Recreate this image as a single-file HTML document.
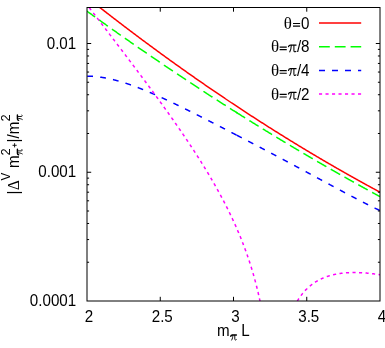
<!DOCTYPE html>
<html><head><meta charset="utf-8"><title>plot</title><style>html,body{margin:0;padding:0;background:#fff}body{width:385px;height:348px;overflow:hidden}</style></head><body>
<svg width="385" height="348" viewBox="0 0 385 348" style="display:block;will-change:transform">
<defs><clipPath id="c"><rect x="87.00" y="7.50" width="293.00" height="293.50"/></clipPath></defs>
<g clip-path="url(#c)" fill="none" stroke-width="1.5" stroke-linecap="butt" stroke-linejoin="round">
<path d="M82.00 -6.60 L82.75 -6.01 L83.49 -5.41 L84.24 -4.82 L84.99 -4.22 L85.73 -3.63 L86.48 -3.04 L87.23 -2.44 L87.97 -1.85 L88.72 -1.26 L89.47 -0.67 L90.22 -0.08 L90.96 0.51 L91.71 1.10 L92.46 1.69 L93.20 2.28 L93.95 2.87 L94.70 3.45 L95.44 4.04 L96.19 4.63 L96.94 5.21 L97.68 5.80 L98.43 6.38 L99.18 6.97 L99.92 7.55 L100.67 8.14 L101.42 8.72 L102.17 9.30 L102.91 9.88 L103.66 10.46 L104.41 11.05 L105.15 11.63 L105.90 12.21 L106.65 12.79 L107.39 13.37 L108.14 13.94 L108.89 14.52 L109.63 15.10 L110.38 15.68 L111.13 16.25 L111.87 16.83 L112.62 17.41 L113.37 17.98 L114.12 18.56 L114.86 19.13 L115.61 19.70 L116.36 20.28 L117.10 20.85 L117.85 21.42 L118.60 21.99 L119.34 22.57 L120.09 23.14 L120.84 23.71 L121.58 24.28 L122.33 24.85 L123.08 25.42 L123.82 25.98 L124.57 26.55 L125.32 27.12 L126.07 27.69 L126.81 28.25 L127.56 28.82 L128.31 29.38 L129.05 29.95 L129.80 30.51 L130.55 31.08 L131.29 31.64 L132.04 32.20 L132.79 32.77 L133.53 33.33 L134.28 33.89 L135.03 34.45 L135.77 35.01 L136.52 35.57 L137.27 36.13 L138.02 36.69 L138.76 37.25 L139.51 37.81 L140.26 38.37 L141.00 38.92 L141.75 39.48 L142.50 40.04 L143.24 40.59 L143.99 41.15 L144.74 41.70 L145.48 42.26 L146.23 42.81 L146.98 43.36 L147.72 43.92 L148.47 44.47 L149.22 45.02 L149.96 45.57 L150.71 46.12 L151.46 46.67 L152.21 47.22 L152.95 47.77 L153.70 48.32 L154.45 48.87 L155.19 49.42 L155.94 49.97 L156.69 50.51 L157.43 51.06 L158.18 51.60 L158.93 52.15 L159.67 52.70 L160.42 53.24 L161.17 53.78 L161.91 54.33 L162.66 54.87 L163.41 55.41 L164.16 55.95 L164.90 56.50 L165.65 57.04 L166.40 57.58 L167.14 58.12 L167.89 58.66 L168.64 59.20 L169.38 59.74 L170.13 60.27 L170.88 60.81 L171.62 61.35 L172.37 61.89 L173.12 62.42 L173.86 62.96 L174.61 63.49 L175.36 64.03 L176.11 64.56 L176.85 65.10 L177.60 65.63 L178.35 66.16 L179.09 66.69 L179.84 67.23 L180.59 67.76 L181.33 68.29 L182.08 68.82 L182.83 69.35 L183.57 69.88 L184.32 70.41 L185.07 70.94 L185.81 71.46 L186.56 71.99 L187.31 72.52 L188.06 73.04 L188.80 73.57 L189.55 74.10 L190.30 74.62 L191.04 75.15 L191.79 75.67 L192.54 76.19 L193.28 76.72 L194.03 77.24 L194.78 77.76 L195.52 78.28 L196.27 78.80 L197.02 79.32 L197.76 79.84 L198.51 80.36 L199.26 80.88 L200.01 81.40 L200.75 81.92 L201.50 82.44 L202.25 82.95 L202.99 83.47 L203.74 83.99 L204.49 84.50 L205.23 85.02 L205.98 85.53 L206.73 86.05 L207.47 86.56 L208.22 87.07 L208.97 87.59 L209.71 88.10 L210.46 88.61 L211.21 89.12 L211.95 89.63 L212.70 90.14 L213.45 90.65 L214.20 91.16 L214.94 91.67 L215.69 92.18 L216.44 92.69 L217.18 93.20 L217.93 93.70 L218.68 94.21 L219.42 94.72 L220.17 95.22 L220.92 95.73 L221.66 96.23 L222.41 96.74 L223.16 97.24 L223.90 97.74 L224.65 98.24 L225.40 98.75 L226.15 99.25 L226.89 99.75 L227.64 100.25 L228.39 100.75 L229.13 101.25 L229.88 101.75 L230.63 102.25 L231.37 102.75 L232.12 103.24 L232.87 103.74 L233.61 104.24 L234.36 104.73 L235.11 105.23 L235.85 105.72 L236.60 106.22 L237.35 106.71 L238.10 107.21 L238.84 107.70 L239.59 108.19 L240.34 108.69 L241.08 109.18 L241.83 109.67 L242.58 110.16 L243.32 110.65 L244.07 111.14 L244.82 111.63 L245.56 112.12 L246.31 112.61 L247.06 113.09 L247.80 113.58 L248.55 114.07 L249.30 114.56 L250.05 115.04 L250.79 115.53 L251.54 116.01 L252.29 116.50 L253.03 116.98 L253.78 117.46 L254.53 117.95 L255.27 118.43 L256.02 118.91 L256.77 119.39 L257.51 119.87 L258.26 120.36 L259.01 120.84 L259.75 121.31 L260.50 121.79 L261.25 122.27 L261.99 122.75 L262.74 123.23 L263.49 123.71 L264.24 124.18 L264.98 124.66 L265.73 125.13 L266.48 125.61 L267.22 126.08 L267.97 126.56 L268.72 127.03 L269.46 127.51 L270.21 127.98 L270.96 128.45 L271.70 128.92 L272.45 129.39 L273.20 129.87 L273.94 130.34 L274.69 130.81 L275.44 131.27 L276.19 131.74 L276.93 132.21 L277.68 132.68 L278.43 133.15 L279.17 133.61 L279.92 134.08 L280.67 134.55 L281.41 135.01 L282.16 135.48 L282.91 135.94 L283.65 136.41 L284.40 136.87 L285.15 137.33 L285.89 137.80 L286.64 138.26 L287.39 138.72 L288.14 139.18 L288.88 139.64 L289.63 140.10 L290.38 140.56 L291.12 141.02 L291.87 141.48 L292.62 141.94 L293.36 142.39 L294.11 142.85 L294.86 143.31 L295.60 143.76 L296.35 144.22 L297.10 144.68 L297.84 145.13 L298.59 145.58 L299.34 146.04 L300.09 146.49 L300.83 146.94 L301.58 147.40 L302.33 147.85 L303.07 148.30 L303.82 148.75 L304.57 149.20 L305.31 149.65 L306.06 150.10 L306.81 150.55 L307.55 151.00 L308.30 151.45 L309.05 151.89 L309.79 152.34 L310.54 152.79 L311.29 153.23 L312.04 153.68 L312.78 154.12 L313.53 154.57 L314.28 155.01 L315.02 155.45 L315.77 155.90 L316.52 156.34 L317.26 156.78 L318.01 157.22 L318.76 157.67 L319.50 158.11 L320.25 158.55 L321.00 158.99 L321.74 159.42 L322.49 159.86 L323.24 160.30 L323.98 160.74 L324.73 161.18 L325.48 161.61 L326.23 162.05 L326.97 162.48 L327.72 162.92 L328.47 163.35 L329.21 163.79 L329.96 164.22 L330.71 164.66 L331.45 165.09 L332.20 165.52 L332.95 165.95 L333.69 166.38 L334.44 166.82 L335.19 167.25 L335.93 167.68 L336.68 168.11 L337.43 168.53 L338.18 168.96 L338.92 169.39 L339.67 169.82 L340.42 170.24 L341.16 170.67 L341.91 171.10 L342.66 171.52 L343.40 171.95 L344.15 172.37 L344.90 172.80 L345.64 173.22 L346.39 173.64 L347.14 174.07 L347.88 174.49 L348.63 174.91 L349.38 175.33 L350.13 175.75 L350.87 176.17 L351.62 176.59 L352.37 177.01 L353.11 177.43 L353.86 177.85 L354.61 178.26 L355.35 178.68 L356.10 179.10 L356.85 179.51 L357.59 179.93 L358.34 180.35 L359.09 180.76 L359.83 181.17 L360.58 181.59 L361.33 182.00 L362.08 182.41 L362.82 182.83 L363.57 183.24 L364.32 183.65 L365.06 184.06 L365.81 184.47 L366.56 184.88 L367.30 185.29 L368.05 185.70 L368.80 186.11 L369.54 186.52 L370.29 186.92 L371.04 187.33 L371.78 187.74 L372.53 188.14 L373.28 188.55 L374.03 188.95 L374.77 189.36 L375.52 189.76 L376.27 190.16 L377.01 190.57 L377.76 190.97 L378.51 191.37 L379.25 191.77 L380.00 192.17" stroke="#ff0000"/>
<path d="M87.00 11.20 L87.38 11.47 L87.75 11.74 L88.13 12.01 L88.51 12.29 L88.89 12.56 L89.26 12.83 L89.64 13.10 L90.02 13.38 L90.39 13.65 L90.77 13.92 L91.15 14.19 L91.53 14.47 L91.90 14.74 L92.28 15.01 L92.66 15.28 L93.04 15.55 L93.41 15.83 L93.79 16.10 L94.17 16.37 L94.54 16.64 L94.92 16.91 L95.30 17.18 L95.68 17.45 L96.05 17.72 L96.43 18.00 L96.81 18.27 L97.18 18.54 L97.56 18.81 L97.94 19.08 L98.32 19.35 L98.69 19.62 L99.07 19.89 L99.45 20.16 L99.82 20.43 L100.20 20.70 L100.58 20.97 L100.96 21.24 L101.33 21.51 L101.71 21.78 L102.09 22.05 L102.46 22.32 L102.84 22.59 L103.22 22.86 L103.60 23.13 L103.97 23.40 L104.35 23.67 L104.73 23.93 L105.11 24.20 L105.48 24.47 L105.86 24.74 L106.24 25.01 L106.61 25.28 L106.99 25.55 L107.37 25.82 L107.75 26.08 L108.12 26.35 L108.50 26.62 L108.88 26.89 L109.25 27.16 L109.63 27.42 L110.01 27.69 L110.39 27.96 L110.76 28.23 L111.14 28.49 L111.52 28.76 L111.89 29.03 L112.27 29.30 L112.65 29.56 L113.03 29.83 L113.40 30.10 L113.78 30.36 L114.16 30.63 L114.54 30.90 L114.91 31.16 L115.29 31.43 L115.67 31.70 L116.04 31.96 L116.42 32.23 L116.80 32.50 L117.18 32.76 L117.55 33.03 L117.93 33.29 L118.31 33.56 L118.68 33.83 L119.06 34.09 L119.44 34.36 L119.82 34.62 L120.19 34.89 L120.57 35.15 L120.95 35.42 L121.32 35.68 L121.70 35.95 L122.08 36.21 L122.46 36.48 L122.83 36.74 L123.21 37.01 L123.59 37.27 L123.96 37.54 L124.34 37.80 L124.72 38.07 L125.10 38.33 L125.47 38.59 L125.85 38.86 L126.23 39.12 L126.61 39.39 L126.98 39.65 L127.36 39.91 L127.74 40.18 L128.11 40.44 L128.49 40.70 L128.87 40.97 L129.25 41.23 L129.62 41.49 L130.00 41.76 L130.38 42.02 L130.75 42.28 L131.13 42.55 L131.51 42.81 L131.89 43.07 L132.26 43.33 L132.64 43.60 L133.02 43.86 L133.39 44.12 L133.77 44.38 L134.15 44.64 L134.53 44.91 L134.90 45.17 L135.28 45.43 L135.66 45.69 L136.04 45.95 L136.41 46.22 L136.79 46.48 L137.17 46.74 L137.54 47.00 L137.92 47.26 L138.30 47.52 L138.68 47.78 L139.05 48.04 L139.43 48.31 L139.81 48.57 L140.18 48.83 L140.56 49.09 L140.94 49.35 L141.32 49.61 L141.69 49.87 L142.07 50.13 L142.45 50.39 L142.82 50.65 L143.20 50.91 L143.58 51.17 L143.96 51.43 L144.33 51.69 L144.71 51.95 L145.09 52.21 L145.46 52.47 L145.84 52.73 L146.22 52.99 L146.60 53.24 L146.97 53.50 L147.35 53.76 L147.73 54.02 L148.11 54.28 L148.48 54.54 L148.86 54.80 L149.24 55.06 L149.61 55.32 L149.99 55.57 L150.37 55.83 L150.75 56.09 L151.12 56.35 L151.50 56.61 L151.88 56.86 L152.25 57.12 L152.63 57.38 L153.01 57.64 L153.39 57.90 L153.76 58.15 L154.14 58.41 L154.52 58.67 L154.89 58.92 L155.27 59.18 L155.65 59.44 L156.03 59.70 L156.40 59.95 L156.78 60.21 L157.16 60.47 L157.54 60.72 L157.91 60.98 L158.29 61.24 L158.67 61.49 L159.04 61.75 L159.42 62.00 L159.80 62.26 L160.18 62.52 L160.55 62.77 L160.93 63.03 L161.31 63.28 L161.68 63.54 L162.06 63.80 L162.44 64.05 L162.82 64.31 L163.19 64.56 L163.57 64.82 L163.95 65.07 L164.32 65.33 L164.70 65.58 L165.08 65.84 L165.46 66.09 L165.83 66.35 L166.21 66.60 L166.59 66.86 L166.96 67.11 L167.34 67.36 L167.72 67.62 L168.10 67.87 L168.47 68.13 L168.85 68.38 L169.23 68.63 L169.61 68.89 L169.98 69.14 L170.36 69.40 L170.74 69.65 L171.11 69.90 L171.49 70.16 L171.87 70.41 L172.25 70.66 L172.62 70.91 L173.00 71.17 L173.38 71.42 L173.75 71.67 L174.13 71.93 L174.51 72.18 L174.89 72.43 L175.26 72.68 L175.64 72.94 L176.02 73.19 L176.39 73.44 L176.77 73.69 L177.15 73.95 L177.53 74.20 L177.90 74.45 L178.28 74.70 L178.66 74.95 L179.04 75.20 L179.41 75.46 L179.79 75.71 L180.17 75.96 L180.54 76.21 L180.92 76.46 L181.30 76.71 L181.68 76.96 L182.05 77.21 L182.43 77.46 L182.81 77.71 L183.18 77.97 L183.56 78.22 L183.94 78.47 L184.32 78.72 L184.69 78.97 L185.07 79.22 L185.45 79.47 L185.82 79.72 L186.20 79.97 L186.58 80.22 L186.96 80.47 L187.33 80.72 L187.71 80.97 L188.09 81.22 L188.46 81.46 L188.84 81.71 L189.22 81.96 L189.60 82.21 L189.97 82.46 L190.35 82.71 L190.73 82.96 L191.11 83.21 L191.48 83.46 L191.86 83.70 L192.24 83.95 L192.61 84.20 L192.99 84.45 L193.37 84.70 L193.75 84.95 L194.12 85.19 L194.50 85.44 L194.88 85.69 L195.25 85.94 L195.63 86.19 L196.01 86.43 L196.39 86.68 L196.76 86.93 L197.14 87.18 L197.52 87.42 L197.89 87.67 L198.27 87.92 L198.65 88.16 L199.03 88.41 L199.40 88.66 L199.78 88.90 L200.16 89.15 L200.54 89.40 L200.91 89.64 L201.29 89.89 L201.67 90.14 L202.04 90.38 L202.42 90.63 L202.80 90.87 L203.18 91.12 L203.55 91.37 L203.93 91.61 L204.31 91.86 L204.68 92.10 L205.06 92.35 L205.44 92.59 L205.82 92.84 L206.19 93.08 L206.57 93.33 L206.95 93.57 L207.32 93.82 L207.70 94.06 L208.08 94.31 L208.46 94.55 L208.83 94.80 L209.21 95.04 L209.59 95.29 L209.96 95.53 L210.34 95.78 L210.72 96.02 L211.10 96.26 L211.47 96.51 L211.85 96.75 L212.23 97.00 L212.61 97.24 L212.98 97.48 L213.36 97.73 L213.74 97.97 L214.11 98.21 L214.49 98.46 L214.87 98.70 L215.25 98.94 L215.62 99.19 L216.00 99.43 L216.38 99.67 L216.75 99.91 L217.13 100.16 L217.51 100.40 L217.89 100.64 L218.26 100.88 L218.64 101.13 L219.02 101.37 L219.39 101.61 L219.77 101.85 L220.15 102.09 L220.53 102.34 L220.90 102.58 L221.28 102.82 L221.66 103.06 L222.04 103.30 L222.41 103.54 L222.79 103.79 L223.17 104.03 L223.54 104.27 L223.92 104.51 L224.30 104.75 L224.68 104.99 L225.05 105.23 L225.43 105.47 L225.81 105.71 L226.18 105.95 L226.56 106.19 L226.94 106.43 L227.32 106.67 L227.69 106.91 L228.07 107.15 L228.45 107.39 L228.82 107.63 L229.20 107.87 L229.58 108.11 L229.96 108.35 L230.33 108.59 L230.71 108.83 L231.09 109.07 L231.46 109.31 L231.84 109.55 L232.22 109.79 L232.60 110.03 L232.97 110.27 L233.35 110.51 L233.73 110.75 L234.11 110.98 L234.48 111.22 L234.86 111.46 L235.24 111.70 L235.61 111.94 L235.99 112.18 L236.37 112.41 L236.75 112.65 L237.12 112.89 L237.50 113.13" stroke="#00ff00" stroke-dasharray="10.8 5" stroke-dashoffset="0.89"/>
<path d="M236.00 112.18 L236.36 112.41 L236.72 112.64 L237.08 112.86 L237.44 113.09 L237.80 113.32 L238.17 113.55 L238.53 113.77 L238.89 114.00 L239.25 114.23 L239.61 114.46 L239.97 114.68 L240.33 114.91 L240.69 115.14 L241.05 115.36 L241.41 115.59 L241.77 115.82 L242.14 116.04 L242.50 116.27 L242.86 116.50 L243.22 116.72 L243.58 116.95 L243.94 117.17 L244.30 117.40 L244.66 117.63 L245.02 117.85 L245.38 118.08 L245.74 118.30 L246.11 118.53 L246.47 118.76 L246.83 118.98 L247.19 119.21 L247.55 119.43 L247.91 119.66 L248.27 119.88 L248.63 120.11 L248.99 120.33 L249.35 120.56 L249.71 120.78 L250.08 121.01 L250.44 121.23 L250.80 121.46 L251.16 121.68 L251.52 121.91 L251.88 122.13 L252.24 122.35 L252.60 122.58 L252.96 122.80 L253.32 123.03 L253.68 123.25 L254.05 123.47 L254.41 123.70 L254.77 123.92 L255.13 124.14 L255.49 124.37 L255.85 124.59 L256.21 124.82 L256.57 125.04 L256.93 125.26 L257.29 125.48 L257.65 125.71 L258.02 125.93 L258.38 126.15 L258.74 126.38 L259.10 126.60 L259.46 126.82 L259.82 127.04 L260.18 127.27 L260.54 127.49 L260.90 127.71 L261.26 127.93 L261.62 128.16 L261.98 128.38 L262.35 128.60 L262.71 128.82 L263.07 129.04 L263.43 129.27 L263.79 129.49 L264.15 129.71 L264.51 129.93 L264.87 130.15 L265.23 130.37 L265.59 130.59 L265.95 130.82 L266.32 131.04 L266.68 131.26 L267.04 131.48 L267.40 131.70 L267.76 131.92 L268.12 132.14 L268.48 132.36 L268.84 132.58 L269.20 132.80 L269.56 133.02 L269.92 133.24 L270.29 133.46 L270.65 133.68 L271.01 133.90 L271.37 134.12 L271.73 134.34 L272.09 134.56 L272.45 134.78 L272.81 135.00 L273.17 135.22 L273.53 135.44 L273.89 135.66 L274.26 135.88 L274.62 136.10 L274.98 136.32 L275.34 136.54 L275.70 136.76 L276.06 136.98 L276.42 137.20 L276.78 137.41 L277.14 137.63 L277.50 137.85 L277.86 138.07 L278.23 138.29 L278.59 138.51 L278.95 138.72 L279.31 138.94 L279.67 139.16 L280.03 139.38 L280.39 139.60 L280.75 139.81 L281.11 140.03 L281.47 140.25 L281.83 140.47 L282.20 140.69 L282.56 140.90 L282.92 141.12 L283.28 141.34 L283.64 141.55 L284.00 141.77 L284.36 141.99 L284.72 142.21 L285.08 142.42 L285.44 142.64 L285.80 142.86 L286.17 143.07 L286.53 143.29 L286.89 143.51 L287.25 143.72 L287.61 143.94 L287.97 144.16 L288.33 144.37 L288.69 144.59 L289.05 144.80 L289.41 145.02 L289.77 145.24 L290.14 145.45 L290.50 145.67 L290.86 145.88 L291.22 146.10 L291.58 146.31 L291.94 146.53 L292.30 146.74 L292.66 146.96 L293.02 147.17 L293.38 147.39 L293.74 147.60 L294.11 147.82 L294.47 148.03 L294.83 148.25 L295.19 148.46 L295.55 148.68 L295.91 148.89 L296.27 149.11 L296.63 149.32 L296.99 149.53 L297.35 149.75 L297.71 149.96 L298.08 150.18 L298.44 150.39 L298.80 150.60 L299.16 150.82 L299.52 151.03 L299.88 151.25 L300.24 151.46 L300.60 151.67 L300.96 151.89 L301.32 152.10 L301.68 152.31 L302.05 152.53 L302.41 152.74 L302.77 152.95 L303.13 153.16 L303.49 153.38 L303.85 153.59 L304.21 153.80 L304.57 154.01 L304.93 154.23 L305.29 154.44 L305.65 154.65 L306.02 154.86 L306.38 155.08 L306.74 155.29 L307.10 155.50 L307.46 155.71 L307.82 155.92 L308.18 156.14 L308.54 156.35 L308.90 156.56 L309.26 156.77 L309.62 156.98 L309.98 157.19 L310.35 157.40 L310.71 157.62 L311.07 157.83 L311.43 158.04 L311.79 158.25 L312.15 158.46 L312.51 158.67 L312.87 158.88 L313.23 159.09 L313.59 159.30 L313.95 159.51 L314.32 159.72 L314.68 159.93 L315.04 160.14 L315.40 160.35 L315.76 160.56 L316.12 160.77 L316.48 160.98 L316.84 161.19 L317.20 161.40 L317.56 161.61 L317.92 161.82 L318.29 162.03 L318.65 162.24 L319.01 162.45 L319.37 162.66 L319.73 162.87 L320.09 163.08 L320.45 163.29 L320.81 163.49 L321.17 163.70 L321.53 163.91 L321.89 164.12 L322.26 164.33 L322.62 164.54 L322.98 164.75 L323.34 164.95 L323.70 165.16 L324.06 165.37 L324.42 165.58 L324.78 165.79 L325.14 165.99 L325.50 166.20 L325.86 166.41 L326.23 166.62 L326.59 166.83 L326.95 167.03 L327.31 167.24 L327.67 167.45 L328.03 167.65 L328.39 167.86 L328.75 168.07 L329.11 168.28 L329.47 168.48 L329.83 168.69 L330.20 168.90 L330.56 169.10 L330.92 169.31 L331.28 169.52 L331.64 169.72 L332.00 169.93 L332.36 170.14 L332.72 170.34 L333.08 170.55 L333.44 170.75 L333.80 170.96 L334.17 171.17 L334.53 171.37 L334.89 171.58 L335.25 171.78 L335.61 171.99 L335.97 172.19 L336.33 172.40 L336.69 172.60 L337.05 172.81 L337.41 173.01 L337.77 173.22 L338.14 173.42 L338.50 173.63 L338.86 173.83 L339.22 174.04 L339.58 174.24 L339.94 174.45 L340.30 174.65 L340.66 174.86 L341.02 175.06 L341.38 175.27 L341.74 175.47 L342.11 175.67 L342.47 175.88 L342.83 176.08 L343.19 176.29 L343.55 176.49 L343.91 176.69 L344.27 176.90 L344.63 177.10 L344.99 177.30 L345.35 177.51 L345.71 177.71 L346.08 177.91 L346.44 178.12 L346.80 178.32 L347.16 178.52 L347.52 178.73 L347.88 178.93 L348.24 179.13 L348.60 179.33 L348.96 179.54 L349.32 179.74 L349.68 179.94 L350.05 180.14 L350.41 180.35 L350.77 180.55 L351.13 180.75 L351.49 180.95 L351.85 181.15 L352.21 181.36 L352.57 181.56 L352.93 181.76 L353.29 181.96 L353.65 182.16 L354.02 182.36 L354.38 182.57 L354.74 182.77 L355.10 182.97 L355.46 183.17 L355.82 183.37 L356.18 183.57 L356.54 183.77 L356.90 183.97 L357.26 184.17 L357.62 184.37 L357.98 184.57 L358.35 184.77 L358.71 184.97 L359.07 185.18 L359.43 185.38 L359.79 185.58 L360.15 185.78 L360.51 185.98 L360.87 186.18 L361.23 186.38 L361.59 186.57 L361.95 186.77 L362.32 186.97 L362.68 187.17 L363.04 187.37 L363.40 187.57 L363.76 187.77 L364.12 187.97 L364.48 188.17 L364.84 188.37 L365.20 188.57 L365.56 188.77 L365.92 188.96 L366.29 189.16 L366.65 189.36 L367.01 189.56 L367.37 189.76 L367.73 189.96 L368.09 190.16 L368.45 190.35 L368.81 190.55 L369.17 190.75 L369.53 190.95 L369.89 191.15 L370.26 191.34 L370.62 191.54 L370.98 191.74 L371.34 191.94 L371.70 192.13 L372.06 192.33 L372.42 192.53 L372.78 192.73 L373.14 192.92 L373.50 193.12 L373.86 193.32 L374.23 193.51 L374.59 193.71 L374.95 193.91 L375.31 194.10 L375.67 194.30 L376.03 194.50 L376.39 194.69 L376.75 194.89 L377.11 195.09 L377.47 195.28 L377.83 195.48 L378.20 195.67 L378.56 195.87 L378.92 196.07 L379.28 196.26 L379.64 196.46 L380.00 196.65" stroke="#00ff00" stroke-dasharray="10.8 5" stroke-dashoffset="0.00"/>
<path d="M87.00 76.18 L87.38 76.18 L87.75 76.18 L88.13 76.18 L88.51 76.19 L88.89 76.20 L89.26 76.20 L89.64 76.21 L90.02 76.23 L90.39 76.24 L90.77 76.25 L91.15 76.27 L91.53 76.29 L91.90 76.31 L92.28 76.33 L92.66 76.35 L93.04 76.38 L93.41 76.40 L93.79 76.43 L94.17 76.46 L94.54 76.49 L94.92 76.52 L95.30 76.55 L95.68 76.59 L96.05 76.63 L96.43 76.66 L96.81 76.70 L97.18 76.74 L97.56 76.78 L97.94 76.83 L98.32 76.87 L98.69 76.92 L99.07 76.97 L99.45 77.01 L99.82 77.06 L100.20 77.12 L100.58 77.17 L100.96 77.22 L101.33 77.28 L101.71 77.33 L102.09 77.39 L102.46 77.45 L102.84 77.51 L103.22 77.57 L103.60 77.64 L103.97 77.70 L104.35 77.77 L104.73 77.83 L105.11 77.90 L105.48 77.97 L105.86 78.04 L106.24 78.11 L106.61 78.18 L106.99 78.26 L107.37 78.33 L107.75 78.41 L108.12 78.49 L108.50 78.56 L108.88 78.64 L109.25 78.72 L109.63 78.81 L110.01 78.89 L110.39 78.97 L110.76 79.06 L111.14 79.14 L111.52 79.23 L111.89 79.32 L112.27 79.41 L112.65 79.50 L113.03 79.59 L113.40 79.68 L113.78 79.78 L114.16 79.87 L114.54 79.97 L114.91 80.06 L115.29 80.16 L115.67 80.26 L116.04 80.36 L116.42 80.46 L116.80 80.56 L117.18 80.66 L117.55 80.77 L117.93 80.87 L118.31 80.98 L118.68 81.08 L119.06 81.19 L119.44 81.30 L119.82 81.41 L120.19 81.52 L120.57 81.63 L120.95 81.74 L121.32 81.85 L121.70 81.96 L122.08 82.08 L122.46 82.19 L122.83 82.31 L123.21 82.42 L123.59 82.54 L123.96 82.66 L124.34 82.78 L124.72 82.90 L125.10 83.02 L125.47 83.14 L125.85 83.26 L126.23 83.39 L126.61 83.51 L126.98 83.64 L127.36 83.76 L127.74 83.89 L128.11 84.01 L128.49 84.14 L128.87 84.27 L129.25 84.40 L129.62 84.53 L130.00 84.66 L130.38 84.79 L130.75 84.92 L131.13 85.06 L131.51 85.19 L131.89 85.32 L132.26 85.46 L132.64 85.59 L133.02 85.73 L133.39 85.87 L133.77 86.01 L134.15 86.14 L134.53 86.28 L134.90 86.42 L135.28 86.56 L135.66 86.70 L136.04 86.84 L136.41 86.99 L136.79 87.13 L137.17 87.27 L137.54 87.42 L137.92 87.56 L138.30 87.70 L138.68 87.85 L139.05 88.00 L139.43 88.14 L139.81 88.29 L140.18 88.44 L140.56 88.59 L140.94 88.74 L141.32 88.89 L141.69 89.04 L142.07 89.19 L142.45 89.34 L142.82 89.49 L143.20 89.64 L143.58 89.79 L143.96 89.95 L144.33 90.10 L144.71 90.26 L145.09 90.41 L145.46 90.57 L145.84 90.72 L146.22 90.88 L146.60 91.03 L146.97 91.19 L147.35 91.35 L147.73 91.51 L148.11 91.67 L148.48 91.83 L148.86 91.98 L149.24 92.14 L149.61 92.31 L149.99 92.47 L150.37 92.63 L150.75 92.79 L151.12 92.95 L151.50 93.11 L151.88 93.28 L152.25 93.44 L152.63 93.60 L153.01 93.77 L153.39 93.93 L153.76 94.10 L154.14 94.26 L154.52 94.43 L154.89 94.60 L155.27 94.76 L155.65 94.93 L156.03 95.10 L156.40 95.26 L156.78 95.43 L157.16 95.60 L157.54 95.77 L157.91 95.94 L158.29 96.11 L158.67 96.28 L159.04 96.45 L159.42 96.62 L159.80 96.79 L160.18 96.96 L160.55 97.13 L160.93 97.30 L161.31 97.48 L161.68 97.65 L162.06 97.82 L162.44 98.00 L162.82 98.17 L163.19 98.34 L163.57 98.52 L163.95 98.69 L164.32 98.87 L164.70 99.04 L165.08 99.22 L165.46 99.39 L165.83 99.57 L166.21 99.74 L166.59 99.92 L166.96 100.10 L167.34 100.27 L167.72 100.45 L168.10 100.63 L168.47 100.81 L168.85 100.98 L169.23 101.16 L169.61 101.34 L169.98 101.52 L170.36 101.70 L170.74 101.88 L171.11 102.06 L171.49 102.24 L171.87 102.42 L172.25 102.60 L172.62 102.78 L173.00 102.96 L173.38 103.14 L173.75 103.32 L174.13 103.50 L174.51 103.68 L174.89 103.86 L175.26 104.04 L175.64 104.23 L176.02 104.41 L176.39 104.59 L176.77 104.77 L177.15 104.96 L177.53 105.14 L177.90 105.32 L178.28 105.51 L178.66 105.69 L179.04 105.87 L179.41 106.06 L179.79 106.24 L180.17 106.43 L180.54 106.61 L180.92 106.80 L181.30 106.98 L181.68 107.17 L182.05 107.35 L182.43 107.54 L182.81 107.72 L183.18 107.91 L183.56 108.09 L183.94 108.28 L184.32 108.46 L184.69 108.65 L185.07 108.84 L185.45 109.02 L185.82 109.21 L186.20 109.40 L186.58 109.58 L186.96 109.77 L187.33 109.96 L187.71 110.15 L188.09 110.33 L188.46 110.52 L188.84 110.71 L189.22 110.90 L189.60 111.09 L189.97 111.27 L190.35 111.46 L190.73 111.65 L191.11 111.84 L191.48 112.03 L191.86 112.22 L192.24 112.41 L192.61 112.59 L192.99 112.78 L193.37 112.97 L193.75 113.16 L194.12 113.35 L194.50 113.54 L194.88 113.73 L195.25 113.92 L195.63 114.11 L196.01 114.30 L196.39 114.49 L196.76 114.68 L197.14 114.87 L197.52 115.06 L197.89 115.25 L198.27 115.44 L198.65 115.63 L199.03 115.82 L199.40 116.01 L199.78 116.21 L200.16 116.40 L200.54 116.59 L200.91 116.78 L201.29 116.97 L201.67 117.16 L202.04 117.35 L202.42 117.54 L202.80 117.74 L203.18 117.93 L203.55 118.12 L203.93 118.31 L204.31 118.50 L204.68 118.69 L205.06 118.89 L205.44 119.08 L205.82 119.27 L206.19 119.46 L206.57 119.66 L206.95 119.85 L207.32 120.04 L207.70 120.23 L208.08 120.43 L208.46 120.62 L208.83 120.81 L209.21 121.00 L209.59 121.20 L209.96 121.39 L210.34 121.58 L210.72 121.77 L211.10 121.97 L211.47 122.16 L211.85 122.35 L212.23 122.55 L212.61 122.74 L212.98 122.93 L213.36 123.13 L213.74 123.32 L214.11 123.51 L214.49 123.71 L214.87 123.90 L215.25 124.09 L215.62 124.29 L216.00 124.48 L216.38 124.67 L216.75 124.87 L217.13 125.06 L217.51 125.26 L217.89 125.45 L218.26 125.64 L218.64 125.84 L219.02 126.03 L219.39 126.23 L219.77 126.42 L220.15 126.61 L220.53 126.81 L220.90 127.00 L221.28 127.20 L221.66 127.39 L222.04 127.59 L222.41 127.78 L222.79 127.97 L223.17 128.17 L223.54 128.36 L223.92 128.56 L224.30 128.75 L224.68 128.95 L225.05 129.14 L225.43 129.34 L225.81 129.53 L226.18 129.73 L226.56 129.92 L226.94 130.12 L227.32 130.31 L227.69 130.51 L228.07 130.70 L228.45 130.90 L228.82 131.09 L229.20 131.29 L229.58 131.48 L229.96 131.68 L230.33 131.87 L230.71 132.07 L231.09 132.26 L231.46 132.46 L231.84 132.65 L232.22 132.85 L232.60 133.04 L232.97 133.24 L233.35 133.43 L233.73 133.63 L234.11 133.82 L234.48 134.02 L234.86 134.22 L235.24 134.41 L235.61 134.61 L235.99 134.80 L236.37 135.00 L236.75 135.19 L237.12 135.39 L237.50 135.59" stroke="#0000ff" stroke-dasharray="5.8 7.2" stroke-dashoffset="12.76"/>
<path d="M236.00 134.81 L236.36 134.99 L236.72 135.18 L237.08 135.37 L237.44 135.56 L237.80 135.74 L238.17 135.93 L238.53 136.12 L238.89 136.31 L239.25 136.49 L239.61 136.68 L239.97 136.87 L240.33 137.06 L240.69 137.24 L241.05 137.43 L241.41 137.62 L241.77 137.81 L242.14 137.99 L242.50 138.18 L242.86 138.37 L243.22 138.56 L243.58 138.74 L243.94 138.93 L244.30 139.12 L244.66 139.31 L245.02 139.50 L245.38 139.68 L245.74 139.87 L246.11 140.06 L246.47 140.25 L246.83 140.44 L247.19 140.62 L247.55 140.81 L247.91 141.00 L248.27 141.19 L248.63 141.38 L248.99 141.57 L249.35 141.75 L249.71 141.94 L250.08 142.13 L250.44 142.32 L250.80 142.51 L251.16 142.70 L251.52 142.88 L251.88 143.07 L252.24 143.26 L252.60 143.45 L252.96 143.64 L253.32 143.83 L253.68 144.01 L254.05 144.20 L254.41 144.39 L254.77 144.58 L255.13 144.77 L255.49 144.96 L255.85 145.15 L256.21 145.34 L256.57 145.53 L256.93 145.71 L257.29 145.90 L257.65 146.09 L258.02 146.28 L258.38 146.47 L258.74 146.66 L259.10 146.85 L259.46 147.04 L259.82 147.23 L260.18 147.42 L260.54 147.61 L260.90 147.79 L261.26 147.98 L261.62 148.17 L261.98 148.36 L262.35 148.55 L262.71 148.74 L263.07 148.93 L263.43 149.12 L263.79 149.31 L264.15 149.50 L264.51 149.69 L264.87 149.88 L265.23 150.07 L265.59 150.26 L265.95 150.45 L266.32 150.64 L266.68 150.83 L267.04 151.02 L267.40 151.21 L267.76 151.40 L268.12 151.59 L268.48 151.78 L268.84 151.97 L269.20 152.16 L269.56 152.35 L269.92 152.54 L270.29 152.73 L270.65 152.92 L271.01 153.11 L271.37 153.30 L271.73 153.49 L272.09 153.68 L272.45 153.87 L272.81 154.06 L273.17 154.25 L273.53 154.44 L273.89 154.63 L274.26 154.82 L274.62 155.02 L274.98 155.21 L275.34 155.40 L275.70 155.59 L276.06 155.78 L276.42 155.97 L276.78 156.16 L277.14 156.35 L277.50 156.54 L277.86 156.73 L278.23 156.92 L278.59 157.12 L278.95 157.31 L279.31 157.50 L279.67 157.69 L280.03 157.88 L280.39 158.07 L280.75 158.26 L281.11 158.46 L281.47 158.65 L281.83 158.84 L282.20 159.03 L282.56 159.22 L282.92 159.41 L283.28 159.61 L283.64 159.80 L284.00 159.99 L284.36 160.18 L284.72 160.37 L285.08 160.56 L285.44 160.76 L285.80 160.95 L286.17 161.14 L286.53 161.33 L286.89 161.52 L287.25 161.72 L287.61 161.91 L287.97 162.10 L288.33 162.29 L288.69 162.49 L289.05 162.68 L289.41 162.87 L289.77 163.06 L290.14 163.26 L290.50 163.45 L290.86 163.64 L291.22 163.83 L291.58 164.03 L291.94 164.22 L292.30 164.41 L292.66 164.61 L293.02 164.80 L293.38 164.99 L293.74 165.18 L294.11 165.38 L294.47 165.57 L294.83 165.76 L295.19 165.96 L295.55 166.15 L295.91 166.34 L296.27 166.54 L296.63 166.73 L296.99 166.92 L297.35 167.12 L297.71 167.31 L298.08 167.50 L298.44 167.70 L298.80 167.89 L299.16 168.08 L299.52 168.28 L299.88 168.47 L300.24 168.66 L300.60 168.86 L300.96 169.05 L301.32 169.24 L301.68 169.44 L302.05 169.63 L302.41 169.83 L302.77 170.02 L303.13 170.21 L303.49 170.41 L303.85 170.60 L304.21 170.80 L304.57 170.99 L304.93 171.18 L305.29 171.38 L305.65 171.57 L306.02 171.77 L306.38 171.96 L306.74 172.16 L307.10 172.35 L307.46 172.54 L307.82 172.74 L308.18 172.93 L308.54 173.13 L308.90 173.32 L309.26 173.52 L309.62 173.71 L309.98 173.90 L310.35 174.10 L310.71 174.29 L311.07 174.49 L311.43 174.68 L311.79 174.88 L312.15 175.07 L312.51 175.27 L312.87 175.46 L313.23 175.66 L313.59 175.85 L313.95 176.05 L314.32 176.24 L314.68 176.43 L315.04 176.63 L315.40 176.82 L315.76 177.02 L316.12 177.21 L316.48 177.41 L316.84 177.60 L317.20 177.80 L317.56 177.99 L317.92 178.19 L318.29 178.38 L318.65 178.58 L319.01 178.77 L319.37 178.97 L319.73 179.16 L320.09 179.36 L320.45 179.55 L320.81 179.75 L321.17 179.94 L321.53 180.14 L321.89 180.33 L322.26 180.53 L322.62 180.72 L322.98 180.92 L323.34 181.11 L323.70 181.31 L324.06 181.50 L324.42 181.70 L324.78 181.89 L325.14 182.09 L325.50 182.28 L325.86 182.48 L326.23 182.67 L326.59 182.87 L326.95 183.06 L327.31 183.26 L327.67 183.45 L328.03 183.65 L328.39 183.84 L328.75 184.03 L329.11 184.23 L329.47 184.42 L329.83 184.62 L330.20 184.81 L330.56 185.01 L330.92 185.20 L331.28 185.40 L331.64 185.59 L332.00 185.79 L332.36 185.98 L332.72 186.18 L333.08 186.37 L333.44 186.56 L333.80 186.76 L334.17 186.95 L334.53 187.15 L334.89 187.34 L335.25 187.53 L335.61 187.73 L335.97 187.92 L336.33 188.12 L336.69 188.31 L337.05 188.50 L337.41 188.70 L337.77 188.89 L338.14 189.09 L338.50 189.28 L338.86 189.47 L339.22 189.67 L339.58 189.86 L339.94 190.05 L340.30 190.25 L340.66 190.44 L341.02 190.63 L341.38 190.83 L341.74 191.02 L342.11 191.21 L342.47 191.41 L342.83 191.60 L343.19 191.79 L343.55 191.98 L343.91 192.18 L344.27 192.37 L344.63 192.56 L344.99 192.75 L345.35 192.94 L345.71 193.14 L346.08 193.33 L346.44 193.52 L346.80 193.71 L347.16 193.90 L347.52 194.10 L347.88 194.29 L348.24 194.48 L348.60 194.67 L348.96 194.86 L349.32 195.05 L349.68 195.24 L350.05 195.43 L350.41 195.62 L350.77 195.81 L351.13 196.00 L351.49 196.19 L351.85 196.38 L352.21 196.57 L352.57 196.76 L352.93 196.95 L353.29 197.14 L353.65 197.33 L354.02 197.52 L354.38 197.71 L354.74 197.90 L355.10 198.09 L355.46 198.28 L355.82 198.47 L356.18 198.65 L356.54 198.84 L356.90 199.03 L357.26 199.22 L357.62 199.40 L357.98 199.59 L358.35 199.78 L358.71 199.97 L359.07 200.15 L359.43 200.34 L359.79 200.53 L360.15 200.71 L360.51 200.90 L360.87 201.08 L361.23 201.27 L361.59 201.46 L361.95 201.64 L362.32 201.83 L362.68 202.01 L363.04 202.19 L363.40 202.38 L363.76 202.56 L364.12 202.75 L364.48 202.93 L364.84 203.11 L365.20 203.30 L365.56 203.48 L365.92 203.66 L366.29 203.84 L366.65 204.03 L367.01 204.21 L367.37 204.39 L367.73 204.57 L368.09 204.75 L368.45 204.93 L368.81 205.11 L369.17 205.29 L369.53 205.47 L369.89 205.65 L370.26 205.83 L370.62 206.01 L370.98 206.19 L371.34 206.37 L371.70 206.55 L372.06 206.73 L372.42 206.90 L372.78 207.08 L373.14 207.26 L373.50 207.44 L373.86 207.61 L374.23 207.79 L374.59 207.96 L374.95 208.14 L375.31 208.31 L375.67 208.49 L376.03 208.66 L376.39 208.84 L376.75 209.01 L377.11 209.18 L377.47 209.36 L377.83 209.53 L378.20 209.70 L378.56 209.87 L378.92 210.04 L379.28 210.22 L379.64 210.39 L380.00 210.56" stroke="#0000ff" stroke-dasharray="5.8 7.2" stroke-dashoffset="-0.70"/>
<path d="M87.00 4.72 L87.21 4.99 L87.42 5.26 L87.62 5.53 L87.83 5.80 L88.04 6.08 L88.25 6.35 L88.46 6.62 L88.66 6.89 L88.87 7.16 L89.08 7.43 L89.29 7.71 L89.49 7.98 L89.70 8.25 L89.91 8.52 L90.12 8.79 L90.33 9.07 L90.53 9.34 L90.74 9.61 L90.95 9.88 L91.16 10.15 L91.37 10.42 L91.57 10.70 L91.78 10.97 L91.99 11.24 L92.20 11.51 L92.40 11.78 L92.61 12.05 L92.82 12.33 L93.03 12.60 L93.24 12.87 L93.44 13.14 L93.65 13.41 L93.86 13.69 L94.07 13.96 L94.28 14.23 L94.48 14.50 L94.69 14.77 L94.90 15.04 L95.11 15.32 L95.31 15.59 L95.52 15.86 L95.73 16.13 L95.94 16.40 L96.15 16.67 L96.35 16.95 L96.56 17.22 L96.77 17.49 L96.98 17.76 L97.19 18.03 L97.39 18.30 L97.60 18.58 L97.81 18.85 L98.02 19.12 L98.22 19.39 L98.43 19.66 L98.64 19.93 L98.85 20.21 L99.06 20.48 L99.26 20.75 L99.47 21.02 L99.68 21.29 L99.89 21.57 L100.10 21.84 L100.30 22.11 L100.51 22.38 L100.72 22.65 L100.93 22.92 L101.14 23.20 L101.34 23.47 L101.55 23.74 L101.76 24.01 L101.97 24.28 L102.17 24.55 L102.38 24.83 L102.59 25.10 L102.80 25.37 L103.01 25.64 L103.21 25.91 L103.42 26.19 L103.63 26.46 L103.84 26.73 L104.05 27.00 L104.25 27.27 L104.46 27.55 L104.67 27.82 L104.88 28.09 L105.08 28.36 L105.29 28.63 L105.50 28.91 L105.71 29.18 L105.92 29.45 L106.12 29.72 L106.33 29.99 L106.54 30.26 L106.75 30.54 L106.96 30.81 L107.16 31.08 L107.37 31.35 L107.58 31.63 L107.79 31.90 L107.99 32.17 L108.20 32.44 L108.41 32.71 L108.62 32.99 L108.83 33.26 L109.03 33.53 L109.24 33.80 L109.45 34.07 L109.66 34.35 L109.87 34.62 L110.07 34.89 L110.28 35.16 L110.49 35.44 L110.70 35.71 L110.91 35.98 L111.11 36.25 L111.32 36.53 L111.53 36.80 L111.74 37.07 L111.94 37.34 L112.15 37.61 L112.36 37.89 L112.57 38.16 L112.78 38.43 L112.98 38.70 L113.19 38.98 L113.40 39.25 L113.61 39.52 L113.82 39.80 L114.02 40.07 L114.23 40.34 L114.44 40.61 L114.65 40.89 L114.85 41.16 L115.06 41.43 L115.27 41.70 L115.48 41.98 L115.69 42.25 L115.89 42.52 L116.10 42.80 L116.31 43.07 L116.52 43.34 L116.73 43.61 L116.93 43.89 L117.14 44.16 L117.35 44.43 L117.56 44.71 L117.76 44.98 L117.97 45.25 L118.18 45.53 L118.39 45.80 L118.60 46.07 L118.80 46.34 L119.01 46.62 L119.22 46.89 L119.43 47.16 L119.64 47.44 L119.84 47.71 L120.05 47.98 L120.26 48.26 L120.47 48.53 L120.67 48.80 L120.88 49.08 L121.09 49.35 L121.30 49.63 L121.51 49.90 L121.71 50.17 L121.92 50.45 L122.13 50.72 L122.34 50.99 L122.55 51.27 L122.75 51.54 L122.96 51.82 L123.17 52.09 L123.38 52.36 L123.59 52.64 L123.79 52.91 L124.00 53.18 L124.21 53.46 L124.42 53.73 L124.62 54.01 L124.83 54.28 L125.04 54.56 L125.25 54.83 L125.46 55.10 L125.66 55.38 L125.87 55.65 L126.08 55.93 L126.29 56.20 L126.50 56.48 L126.70 56.75 L126.91 57.03 L127.12 57.30 L127.33 57.57 L127.53 57.85 L127.74 58.12 L127.95 58.40 L128.16 58.67 L128.37 58.95 L128.57 59.22 L128.78 59.50 L128.99 59.77 L129.20 60.05 L129.41 60.32 L129.61 60.60 L129.82 60.87 L130.03 61.15 L130.24 61.42 L130.44 61.70 L130.65 61.97 L130.86 62.25 L131.07 62.53 L131.28 62.80 L131.48 63.08 L131.69 63.35 L131.90 63.63 L132.11 63.90 L132.32 64.18 L132.52 64.46 L132.73 64.73 L132.94 65.01 L133.15 65.28 L133.35 65.56 L133.56 65.84 L133.77 66.11 L133.98 66.39 L134.19 66.66 L134.39 66.94 L134.60 67.22 L134.81 67.49 L135.02 67.77 L135.23 68.05 L135.43 68.32 L135.64 68.60 L135.85 68.88 L136.06 69.15 L136.27 69.43 L136.47 69.71 L136.68 69.98 L136.89 70.26 L137.10 70.54 L137.30 70.81 L137.51 71.09 L137.72 71.37 L137.93 71.65 L138.14 71.92 L138.34 72.20 L138.55 72.48 L138.76 72.76 L138.97 73.03 L139.18 73.31 L139.38 73.59 L139.59 73.87 L139.80 74.15 L140.01 74.42 L140.21 74.70 L140.42 74.98 L140.63 75.26 L140.84 75.54 L141.05 75.81 L141.25 76.09 L141.46 76.37 L141.67 76.65 L141.88 76.93 L142.09 77.21 L142.29 77.49 L142.50 77.76 L142.71 78.04 L142.92 78.32 L143.12 78.60 L143.33 78.88 L143.54 79.16 L143.75 79.44 L143.96 79.72 L144.16 80.00 L144.37 80.28 L144.58 80.56 L144.79 80.84 L145.00 81.12 L145.20 81.40 L145.41 81.68 L145.62 81.96 L145.83 82.24 L146.04 82.52 L146.24 82.80 L146.45 83.08 L146.66 83.36 L146.87 83.64 L147.07 83.92 L147.28 84.20 L147.49 84.48 L147.70 84.76 L147.91 85.04 L148.11 85.32 L148.32 85.60 L148.53 85.88 L148.74 86.16 L148.95 86.45 L149.15 86.73 L149.36 87.01 L149.57 87.29 L149.78 87.57 L149.98 87.85 L150.19 88.14 L150.40 88.42 L150.61 88.70 L150.82 88.98 L151.02 89.26 L151.23 89.55 L151.44 89.83 L151.65 90.11 L151.86 90.39 L152.06 90.68 L152.27 90.96 L152.48 91.24 L152.69 91.52 L152.89 91.81 L153.10 92.09 L153.31 92.37 L153.52 92.66 L153.73 92.94 L153.93 93.23 L154.14 93.51 L154.35 93.79 L154.56 94.08 L154.77 94.36 L154.97 94.64 L155.18 94.93 L155.39 95.21 L155.60 95.50 L155.80 95.78 L156.01 96.07 L156.22 96.35 L156.43 96.64 L156.64 96.92 L156.84 97.21 L157.05 97.49 L157.26 97.78 L157.47 98.06 L157.68 98.35 L157.88 98.63 L158.09 98.92 L158.30 99.21 L158.51 99.49 L158.72 99.78 L158.92 100.06 L159.13 100.35 L159.34 100.64 L159.55 100.92 L159.75 101.21 L159.96 101.50 L160.17 101.78 L160.38 102.07 L160.59 102.36 L160.79 102.65 L161.00 102.93 L161.21 103.22 L161.42 103.51 L161.63 103.80 L161.83 104.08 L162.04 104.37 L162.25 104.66 L162.46 104.95 L162.66 105.24 L162.87 105.53 L163.08 105.82 L163.29 106.10 L163.50 106.39 L163.70 106.68 L163.91 106.97 L164.12 107.26 L164.33 107.55 L164.54 107.84 L164.74 108.13 L164.95 108.42 L165.16 108.71 L165.37 109.00 L165.57 109.29 L165.78 109.58 L165.99 109.87 L166.20 110.16 L166.41 110.45 L166.61 110.75 L166.82 111.04 L167.03 111.33 L167.24 111.62 L167.45 111.91 L167.65 112.20 L167.86 112.50 L168.07 112.79 L168.28 113.08 L168.48 113.37 L168.69 113.67 L168.90 113.96 L169.11 114.25 L169.32 114.54 L169.52 114.84 L169.73 115.13 L169.94 115.42 L170.15 115.72 L170.36 116.01 L170.56 116.31 L170.77 116.60 L170.98 116.90 L171.19 117.19 L171.40 117.48 L171.60 117.78 L171.81 118.07 L172.02 118.37 L172.23 118.67 L172.43 118.96 L172.64 119.26 L172.85 119.55 L173.06 119.85 L173.27 120.15 L173.47 120.44 L173.68 120.74 L173.89 121.04 L174.10 121.33 L174.31 121.63 L174.51 121.93 L174.72 122.22 L174.93 122.52 L175.14 122.82 L175.34 123.12 L175.55 123.42 L175.76 123.72 L175.97 124.01 L176.18 124.31 L176.38 124.61 L176.59 124.91 L176.80 125.21 L177.01 125.51 L177.22 125.81 L177.42 126.11 L177.63 126.41 L177.84 126.71 L178.05 127.01 L178.25 127.31 L178.46 127.61 L178.67 127.92 L178.88 128.22 L179.09 128.52 L179.29 128.82 L179.50 129.12 L179.71 129.43 L179.92 129.73 L180.13 130.03 L180.33 130.33 L180.54 130.64 L180.75 130.94 L180.96 131.24 L181.17 131.55 L181.37 131.85 L181.58 132.16 L181.79 132.46 L182.00 132.77 L182.20 133.07 L182.41 133.38 L182.62 133.68 L182.83 133.99 L183.04 134.29 L183.24 134.60 L183.45 134.90 L183.66 135.21 L183.87 135.52 L184.08 135.83 L184.28 136.13 L184.49 136.44 L184.70 136.75 L184.91 137.06 L185.11 137.36 L185.32 137.67 L185.53 137.98 L185.74 138.29 L185.95 138.60 L186.15 138.91 L186.36 139.22 L186.57 139.53 L186.78 139.84 L186.99 140.15 L187.19 140.46 L187.40 140.77 L187.61 141.08 L187.82 141.40 L188.02 141.71 L188.23 142.02 L188.44 142.33 L188.65 142.64 L188.86 142.96 L189.06 143.27 L189.27 143.58 L189.48 143.90 L189.69 144.21 L189.90 144.53 L190.10 144.84 L190.31 145.16 L190.52 145.47 L190.73 145.79 L190.93 146.10 L191.14 146.42 L191.35 146.74 L191.56 147.05 L191.77 147.37 L191.97 147.69 L192.18 148.00 L192.39 148.32 L192.60 148.64 L192.81 148.96 L193.01 149.28 L193.22 149.60 L193.43 149.92 L193.64 150.24 L193.85 150.56 L194.05 150.88 L194.26 151.20 L194.47 151.52 L194.68 151.84 L194.88 152.16 L195.09 152.48 L195.30 152.81 L195.51 153.13 L195.72 153.45 L195.92 153.77 L196.13 154.10 L196.34 154.42 L196.55 154.75 L196.76 155.07 L196.96 155.40 L197.17 155.72 L197.38 156.05 L197.59 156.37 L197.79 156.70 L198.00 157.03 L198.21 157.35 L198.42 157.68 L198.63 158.01 L198.83 158.34 L199.04 158.67 L199.25 159.00 L199.46 159.33 L199.67 159.66 L199.87 159.99 L200.08 160.32 L200.29 160.65 L200.50 160.98 L200.70 161.31 L200.91 161.64 L201.12 161.98 L201.33 162.31 L201.54 162.64 L201.74 162.98 L201.95 163.31 L202.16 163.64 L202.37 163.98 L202.58 164.31 L202.78 164.65 L202.99 164.99 L203.20 165.32 L203.41 165.66 L203.61 166.00 L203.82 166.34 L204.03 166.67 L204.24 167.01 L204.45 167.35 L204.65 167.69 L204.86 168.03 L205.07 168.37 L205.28 168.71 L205.49 169.06 L205.69 169.40 L205.90 169.74 L206.11 170.08 L206.32 170.43 L206.53 170.77 L206.73 171.12 L206.94 171.46 L207.15 171.81 L207.36 172.15 L207.56 172.50 L207.77 172.84 L207.98 173.19 L208.19 173.54 L208.40 173.89 L208.60 174.24 L208.81 174.59 L209.02 174.94 L209.23 175.29 L209.44 175.64 L209.64 175.99 L209.85 176.34 L210.06 176.69 L210.27 177.05 L210.47 177.40 L210.68 177.75 L210.89 178.11 L211.10 178.46 L211.31 178.82 L211.51 179.17 L211.72 179.53 L211.93 179.89 L212.14 180.25 L212.35 180.61 L212.55 180.96 L212.76 181.32 L212.97 181.68 L213.18 182.05 L213.38 182.41 L213.59 182.77 L213.80 183.13 L214.01 183.50 L214.22 183.86 L214.42 184.22 L214.63 184.59 L214.84 184.95 L215.05 185.32 L215.26 185.69 L215.46 186.06 L215.67 186.42 L215.88 186.79 L216.09 187.16 L216.30 187.53 L216.50 187.90 L216.71 188.28 L216.92 188.65 L217.13 189.02 L217.33 189.40 L217.54 189.77 L217.75 190.15 L217.96 190.52 L218.17 190.90 L218.37 191.28 L218.58 191.65 L218.79 192.03 L219.00 192.41 L219.21 192.79 L219.41 193.17 L219.62 193.56 L219.83 193.94 L220.04 194.32 L220.24 194.71 L220.45 195.09 L220.66 195.48 L220.87 195.86 L221.08 196.25 L221.28 196.64 L221.49 197.03 L221.70 197.42 L221.91 197.81 L222.12 198.20 L222.32 198.59 L222.53 198.98 L222.74 199.38 L222.95 199.77 L223.15 200.17 L223.36 200.57 L223.57 200.96 L223.78 201.36 L223.99 201.76 L224.19 202.16 L224.40 202.56 L224.61 202.96 L224.82 203.37 L225.03 203.77 L225.23 204.18 L225.44 204.58 L225.65 204.99 L225.86 205.40 L226.06 205.81 L226.27 206.22 L226.48 206.63 L226.69 207.04 L226.90 207.45 L227.10 207.86 L227.31 208.28 L227.52 208.70 L227.73 209.11 L227.94 209.53 L228.14 209.95 L228.35 210.37 L228.56 210.79 L228.77 211.21 L228.98 211.64 L229.18 212.06 L229.39 212.49 L229.60 212.92 L229.81 213.34 L230.01 213.77 L230.22 214.20 L230.43 214.64 L230.64 215.07 L230.85 215.50 L231.05 215.94 L231.26 216.38 L231.47 216.81 L231.68 217.25 L231.89 217.69 L232.09 218.14 L232.30 218.58 L232.51 219.02 L232.72 219.47 L232.92 219.92 L233.13 220.37 L233.34 220.82 L233.55 221.27 L233.76 221.72 L233.96 222.18 L234.17 222.63 L234.38 223.09 L234.59 223.55 L234.80 224.01 L235.00 224.47 L235.21 224.93 L235.42 225.40 L235.63 225.86 L235.83 226.33 L236.04 226.80 L236.25 227.27 L236.46 227.75 L236.67 228.22 L236.87 228.70 L237.08 229.18 L237.29 229.66 L237.50 230.14 L237.71 230.62 L237.91 231.11 L238.12 231.59 L238.33 232.08 L238.54 232.57 L238.74 233.06 L238.95 233.56 L239.16 234.05 L239.37 234.55 L239.58 235.05 L239.78 235.55 L239.99 236.06 L240.20 236.56 L240.41 237.07 L240.62 237.58 L240.82 238.09 L241.03 238.61 L241.24 239.13 L241.45 239.64 L241.66 240.17 L241.86 240.69 L242.07 241.21 L242.28 241.74 L242.49 242.27 L242.69 242.81 L242.90 243.34 L243.11 243.88 L243.32 244.42 L243.53 244.96 L243.73 245.50 L243.94 246.05 L244.15 246.60 L244.36 247.16 L244.57 247.71 L244.77 248.27 L244.98 248.83 L245.19 249.39 L245.40 249.96 L245.60 250.53 L245.81 251.10 L246.02 251.68 L246.23 252.26 L246.44 252.84 L246.64 253.42 L246.85 254.01 L247.06 254.60 L247.27 255.20 L247.48 255.79 L247.68 256.39 L247.89 257.00 L248.10 257.61 L248.31 258.22 L248.51 258.83 L248.72 259.45 L248.93 260.07 L249.14 260.70 L249.35 261.33 L249.55 261.96 L249.76 262.60 L249.97 263.24 L250.18 263.89 L250.39 264.54 L250.59 265.20 L250.80 265.85 L251.01 266.52 L251.22 267.19 L251.43 267.86 L251.63 268.54 L251.84 269.22 L252.05 269.90 L252.26 270.60 L252.46 271.29 L252.67 271.99 L252.88 272.70 L253.09 273.41 L253.30 274.13 L253.50 274.85 L253.71 275.58 L253.92 276.32 L254.13 277.06 L254.34 277.80 L254.54 278.56 L254.75 279.32 L254.96 280.08 L255.17 280.85 L255.37 281.63 L255.58 282.42 L255.79 283.21 L256.00 284.01 L256.21 284.82 L256.41 285.63 L256.62 286.46 L256.83 287.29 L257.04 288.12 L257.25 288.97 L257.45 289.83 L257.66 290.69 L257.87 291.56 L258.08 292.45 L258.28 293.34 L258.49 294.24 L258.70 295.15 L258.91 296.07 L259.12 297.00 L259.32 297.94 L259.53 298.90 L259.74 299.86 L259.95 300.84 L260.16 301.83 L260.36 302.83 L260.57 303.84 L260.78 304.87 L260.99 305.91 L261.19 306.96 L261.40 308.03 L261.61 309.12 L261.82 310.22 L262.03 311.33 L262.23 312.47 L262.44 313.62 L262.65 314.78 L262.86 315.97 L263.07 317.17 L263.27 318.40 L263.48 319.64 L263.69 320.91 L263.90 322.20 L264.11 323.51 L264.31 324.85 L264.52 326.21 L264.73 327.60 L264.94 329.02 L265.14 330.46 L265.35 331.94 L265.56 333.45 L265.77 334.99 L265.98 336.56 L266.18 338.17 L266.39 339.83 L266.60 341.52 L266.81 343.25 L267.02 345.03 L267.22 346.86 L267.43 348.74 L267.64 350.68 L267.85 352.67 L268.05 354.73 L268.26 356.85 L268.47 359.05 L268.68 361.32 L268.89 363.67 L269.09 366.12 L269.30 368.66 L269.51 371.31 L269.72 374.07 L269.93 376.96 L270.13 379.99 L270.34 383.18 L270.55 386.54 L270.76 390.09 L270.96 393.87 L271.17 397.90 L271.38 402.21 L271.59 406.85 L271.80 411.89 L272.00 417.40 L272.21 423.47 L272.42 430.24 L272.63 437.91 L272.84 446.73 L273.04 457.16 L273.25 469.90 L273.46 486.32 L273.67 509.51 L273.87 549.51" stroke="#ff00ff" stroke-dasharray="3.1 3.435" stroke-dashoffset="2.80"/>
<path d="M274.27 549.81 L274.39 524.04 L274.51 506.52 L274.63 493.23 L274.75 482.53 L274.86 473.58 L274.98 465.90 L275.10 459.16 L275.22 453.16 L275.33 447.77 L275.45 442.86 L275.57 438.36 L275.69 434.21 L275.80 430.36 L275.92 426.77 L276.04 423.41 L276.16 420.24 L276.27 417.26 L276.39 414.44 L276.51 411.76 L276.63 409.21 L276.74 406.78 L276.86 404.45 L276.98 402.23 L277.10 400.10 L277.22 398.05 L277.33 396.09 L277.45 394.19 L277.57 392.37 L277.69 390.60 L277.80 388.90 L277.92 387.25 L278.04 385.65 L278.16 384.11 L278.27 382.61 L278.39 381.15 L278.51 379.74 L278.63 378.36 L278.74 377.02 L278.86 375.72 L278.98 374.45 L279.10 373.21 L279.21 372.01 L279.33 370.83 L279.45 369.68 L279.57 368.56 L279.68 367.46 L279.80 366.39 L279.92 365.34 L280.04 364.32 L280.16 363.31 L280.27 362.33 L280.39 361.37 L280.51 360.42 L280.63 359.50 L280.74 358.59 L280.86 357.70 L280.98 356.83 L281.10 355.97 L281.21 355.13 L281.33 354.31 L281.45 353.50 L281.57 352.70 L281.68 351.92 L281.80 351.15 L281.92 350.39 L282.04 349.65 L282.15 348.91 L282.27 348.19 L282.39 347.49 L282.51 346.79 L282.62 346.10 L282.74 345.43 L282.86 344.76 L282.98 344.10 L283.10 343.46 L283.21 342.82 L283.33 342.20 L283.45 341.58 L283.57 340.97 L283.68 340.37 L283.80 339.77 L283.92 339.19 L284.04 338.61 L284.15 338.05 L284.27 337.48 L284.39 336.93 L284.51 336.38 L284.62 335.85 L284.74 335.31 L284.86 334.79 L284.98 334.27 L285.09 333.76 L285.21 333.25 L285.33 332.75 L285.45 332.26 L285.56 331.77 L285.68 331.29 L285.80 330.81 L285.92 330.34 L286.04 329.88 L286.15 329.42 L286.27 328.96 L286.39 328.51 L286.51 328.07 L286.62 327.63 L286.74 327.20 L286.86 326.77 L286.98 326.34 L287.09 325.92 L287.21 325.51 L287.33 325.10 L287.45 324.69 L287.56 324.29 L287.68 323.89 L287.80 323.50 L287.92 323.11 L288.03 322.72 L288.15 322.34 L288.27 321.96 L288.39 321.59 L288.50 321.22 L288.62 320.85 L288.74 320.49 L288.86 320.13 L288.98 319.77 L289.09 319.42 L289.21 319.07 L289.33 318.72 L289.45 318.38 L289.56 318.04 L289.68 317.71 L289.80 317.38 L289.92 317.05 L290.03 316.72 L290.15 316.40 L290.27 316.08 L290.39 315.76 L290.50 315.44 L290.62 315.13 L290.74 314.82 L290.86 314.52 L290.97 314.21 L291.09 313.91 L291.21 313.61 L291.33 313.32 L291.44 313.03 L291.56 312.74 L291.68 312.45 L291.80 312.16 L291.92 311.88 L292.03 311.60 L292.15 311.32 L292.27 311.05 L292.39 310.77 L292.50 310.50 L292.62 310.23 L292.74 309.97 L292.86 309.70 L292.97 309.44 L293.09 309.18 L293.21 308.92 L293.33 308.67 L293.44 308.41 L293.56 308.16 L293.68 307.91 L293.80 307.66 L293.91 307.42 L294.03 307.17 L294.15 306.93 L294.27 306.69 L294.39 306.45 L294.50 306.22 L294.62 305.98 L294.74 305.75 L294.86 305.52 L294.97 305.29 L295.09 305.07 L295.21 304.84 L295.33 304.62 L295.44 304.39 L295.56 304.17 L295.68 303.96 L295.80 303.74 L295.91 303.52 L296.03 303.31 L296.15 303.10 L296.27 302.89 L296.38 302.68 L296.50 302.47 L296.62 302.26 L296.74 302.06 L296.85 301.86 L296.97 301.66 L297.09 301.46 L297.21 301.26 L297.33 301.06 L297.44 300.86 L297.56 300.67 L297.68 300.48 L297.80 300.29 L297.91 300.10 L298.03 299.91 L298.15 299.72 L298.27 299.53 L298.38 299.35 L298.50 299.16 L298.62 298.98 L298.74 298.80 L298.85 298.62 L298.97 298.44 L299.09 298.27 L299.21 298.09 L299.32 297.92 L299.44 297.74 L299.56 297.57 L299.68 297.40 L299.79 297.23 L299.91 297.06 L300.03 296.89 L300.15 296.72 L300.27 296.56 L300.38 296.40 L300.50 296.23 L300.62 296.07 L300.74 295.91 L300.85 295.75 L300.97 295.59 L301.09 295.43 L301.21 295.28 L301.32 295.12 L301.44 294.96 L301.56 294.81 L301.68 294.66 L301.79 294.51 L301.91 294.36 L302.03 294.21 L302.15 294.06 L302.26 293.91 L302.38 293.76 L302.50 293.62 L302.62 293.47 L302.73 293.33 L302.85 293.19 L302.97 293.04 L303.09 292.90 L303.21 292.76 L303.32 292.62 L303.44 292.48 L303.56 292.35 L303.68 292.21 L303.79 292.07 L303.91 291.94 L304.03 291.80 L304.15 291.67 L304.26 291.54 L304.38 291.41 L304.50 291.28 L304.62 291.15 L304.73 291.02 L304.85 290.89 L304.97 290.76 L305.09 290.63 L305.20 290.51 L305.32 290.38 L305.44 290.26 L305.56 290.14 L305.67 290.01 L305.79 289.89 L305.91 289.77 L306.03 289.65 L306.15 289.53 L306.26 289.41 L306.38 289.29 L306.50 289.17 L306.62 289.06 L306.73 288.94 L306.85 288.83 L306.97 288.71 L307.09 288.60 L307.20 288.48 L307.32 288.37 L307.44 288.26 L307.56 288.15 L307.67 288.04 L307.79 287.93 L307.91 287.82 L308.03 287.71 L308.14 287.60 L308.26 287.50 L308.38 287.39 L308.50 287.28 L308.62 287.18 L308.73 287.07 L308.85 286.97 L308.97 286.87 L309.09 286.76 L309.20 286.66 L309.32 286.56 L309.44 286.46 L309.56 286.36 L309.67 286.26 L309.79 286.16 L309.91 286.06 L310.03 285.96 L310.14 285.87 L310.26 285.77 L310.38 285.67 L310.50 285.58 L310.61 285.48 L310.73 285.39 L310.85 285.29 L310.97 285.20 L311.08 285.11 L311.20 285.01 L311.32 284.92 L311.44 284.83 L311.56 284.74 L311.67 284.65 L311.79 284.56 L311.91 284.47 L312.03 284.38 L312.14 284.30 L312.26 284.21 L312.38 284.12 L312.50 284.04 L312.61 283.95 L312.73 283.87 L312.85 283.78 L312.97 283.70 L313.08 283.61 L313.20 283.53 L313.32 283.45 L313.44 283.36 L313.55 283.28 L313.67 283.20 L313.79 283.12 L313.91 283.04 L314.02 282.96 L314.14 282.88 L314.26 282.80 L314.38 282.72 L314.50 282.64 L314.61 282.57 L314.73 282.49 L314.85 282.41 L314.97 282.34 L315.08 282.26 L315.20 282.19 L315.32 282.11 L315.44 282.04 L315.55 281.96 L315.67 281.89 L315.79 281.82 L315.91 281.74 L316.02 281.67 L316.14 281.60 L316.26 281.53 L316.38 281.46 L316.49 281.39 L316.61 281.32 L316.73 281.25 L316.85 281.18 L316.96 281.11 L317.08 281.04 L317.20 280.97 L317.32 280.91 L317.44 280.84 L317.55 280.77 L317.67 280.71 L317.79 280.64 L317.91 280.57 L318.02 280.51 L318.14 280.44 L318.26 280.38 L318.38 280.32 L318.49 280.25 L318.61 280.19 L318.73 280.13 L318.85 280.06 L318.96 280.00 L319.08 279.94 L319.20 279.88 L319.32 279.82 L319.43 279.76 L319.55 279.70 L319.67 279.64 L319.79 279.58 L319.90 279.52 L320.02 279.46 L320.14 279.40 L320.26 279.34 L320.38 279.28 L320.49 279.23 L320.61 279.17 L320.73 279.11 L320.85 279.06 L320.96 279.00 L321.08 278.94 L321.20 278.89 L321.32 278.83 L321.43 278.78 L321.55 278.72 L321.67 278.67 L321.79 278.62 L321.90 278.56 L322.02 278.51 L322.14 278.46 L322.26 278.41 L322.37 278.35 L322.49 278.30 L322.61 278.25 L322.73 278.20 L322.84 278.15 L322.96 278.10 L323.08 278.05 L323.20 278.00 L323.32 277.95 L323.43 277.90 L323.55 277.85 L323.67 277.80 L323.79 277.75 L323.90 277.71 L324.02 277.66 L324.14 277.61 L324.26 277.56 L324.37 277.52 L324.49 277.47 L324.61 277.42 L324.73 277.38 L324.84 277.33 L324.96 277.29 L325.08 277.24 L325.20 277.20 L325.31 277.15 L325.43 277.11 L325.55 277.07 L325.67 277.02 L325.79 276.98 L325.90 276.94 L326.02 276.89 L326.14 276.85 L326.26 276.81 L326.37 276.77 L326.49 276.72 L326.61 276.68 L326.73 276.64 L326.84 276.60 L326.96 276.56 L327.08 276.52 L327.20 276.48 L327.31 276.44 L327.43 276.40 L327.55 276.36 L327.67 276.32 L327.78 276.28 L327.90 276.24 L328.02 276.21 L328.14 276.17 L328.25 276.13 L328.37 276.09 L328.49 276.06 L328.61 276.02 L328.73 275.98 L328.84 275.95 L328.96 275.91 L329.08 275.87 L329.20 275.84 L329.31 275.80 L329.43 275.77 L329.55 275.73 L329.67 275.70 L329.78 275.66 L329.90 275.63 L330.02 275.60 L330.14 275.56 L330.25 275.53 L330.37 275.49 L330.49 275.46 L330.61 275.43 L330.72 275.40 L330.84 275.36 L330.96 275.33 L331.08 275.30 L331.19 275.27 L331.31 275.24 L331.43 275.21 L331.55 275.17 L331.67 275.14 L331.78 275.11 L331.90 275.08 L332.02 275.05 L332.14 275.02 L332.25 274.99 L332.37 274.96 L332.49 274.93 L332.61 274.91 L332.72 274.88 L332.84 274.85 L332.96 274.82 L333.08 274.79 L333.19 274.76 L333.31 274.74 L333.43 274.71 L333.55 274.68 L333.66 274.65 L333.78 274.63 L333.90 274.60 L334.02 274.57 L334.13 274.55 L334.25 274.52 L334.37 274.50 L334.49 274.47 L334.61 274.45 L334.72 274.42 L334.84 274.40 L334.96 274.37 L335.08 274.35 L335.19 274.32 L335.31 274.30 L335.43 274.27 L335.55 274.25 L335.66 274.23 L335.78 274.20 L335.90 274.18 L336.02 274.16 L336.13 274.13 L336.25 274.11 L336.37 274.09 L336.49 274.07 L336.60 274.04 L336.72 274.02 L336.84 274.00 L336.96 273.98 L337.07 273.96 L337.19 273.94 L337.31 273.91 L337.43 273.89 L337.55 273.87 L337.66 273.85 L337.78 273.83 L337.90 273.81 L338.02 273.79 L338.13 273.77 L338.25 273.75 L338.37 273.73 L338.49 273.72 L338.60 273.70 L338.72 273.68 L338.84 273.66 L338.96 273.64 L339.07 273.62 L339.19 273.60 L339.31 273.59 L339.43 273.57 L339.54 273.55 L339.66 273.53 L339.78 273.52 L339.90 273.50 L340.02 273.48 L340.13 273.47 L340.25 273.45 L340.37 273.43 L340.49 273.42 L340.60 273.40 L340.72 273.38 L340.84 273.37 L340.96 273.35 L341.07 273.34 L341.19 273.32 L341.31 273.31 L341.43 273.29 L341.54 273.28 L341.66 273.26 L341.78 273.25 L341.90 273.23 L342.01 273.22 L342.13 273.21 L342.25 273.19 L342.37 273.18 L342.48 273.17 L342.60 273.15 L342.72 273.14 L342.84 273.13 L342.96 273.11 L343.07 273.10 L343.19 273.09 L343.31 273.08 L343.43 273.06 L343.54 273.05 L343.66 273.04 L343.78 273.03 L343.90 273.02 L344.01 273.01 L344.13 272.99 L344.25 272.98 L344.37 272.97 L344.48 272.96 L344.60 272.95 L344.72 272.94 L344.84 272.93 L344.95 272.92 L345.07 272.91 L345.19 272.90 L345.31 272.89 L345.42 272.88 L345.54 272.87 L345.66 272.86 L345.78 272.85 L345.90 272.84 L346.01 272.83 L346.13 272.82 L346.25 272.82 L346.37 272.81 L346.48 272.80 L346.60 272.79 L346.72 272.78 L346.84 272.77 L346.95 272.77 L347.07 272.76 L347.19 272.75 L347.31 272.74 L347.42 272.74 L347.54 272.73 L347.66 272.72 L347.78 272.72 L347.89 272.71 L348.01 272.70 L348.13 272.70 L348.25 272.69 L348.36 272.68 L348.48 272.68 L348.60 272.67 L348.72 272.67 L348.84 272.66 L348.95 272.65 L349.07 272.65 L349.19 272.64 L349.31 272.64 L349.42 272.63 L349.54 272.63 L349.66 272.62 L349.78 272.62 L349.89 272.61 L350.01 272.61 L350.13 272.61 L350.25 272.60 L350.36 272.60 L350.48 272.59 L350.60 272.59 L350.72 272.59 L350.83 272.58 L350.95 272.58 L351.07 272.58 L351.19 272.57 L351.30 272.57 L351.42 272.57 L351.54 272.56 L351.66 272.56 L351.78 272.56 L351.89 272.56 L352.01 272.55 L352.13 272.55 L352.25 272.55 L352.36 272.55 L352.48 272.55 L352.60 272.54 L352.72 272.54 L352.83 272.54 L352.95 272.54 L353.07 272.54 L353.19 272.54 L353.30 272.54 L353.42 272.53 L353.54 272.53 L353.66 272.53 L353.77 272.53 L353.89 272.53 L354.01 272.53 L354.13 272.53 L354.24 272.53 L354.36 272.53 L354.48 272.53 L354.60 272.53 L354.72 272.53 L354.83 272.53 L354.95 272.53 L355.07 272.53 L355.19 272.53 L355.30 272.54 L355.42 272.54 L355.54 272.54 L355.66 272.54 L355.77 272.54 L355.89 272.54 L356.01 272.54 L356.13 272.55 L356.24 272.55 L356.36 272.55 L356.48 272.55 L356.60 272.55 L356.71 272.56 L356.83 272.56 L356.95 272.56 L357.07 272.56 L357.19 272.56 L357.30 272.57 L357.42 272.57 L357.54 272.57 L357.66 272.58 L357.77 272.58 L357.89 272.58 L358.01 272.59 L358.13 272.59 L358.24 272.59 L358.36 272.60 L358.48 272.60 L358.60 272.60 L358.71 272.61 L358.83 272.61 L358.95 272.62 L359.07 272.62 L359.18 272.63 L359.30 272.63 L359.42 272.63 L359.54 272.64 L359.65 272.64 L359.77 272.65 L359.89 272.65 L360.01 272.66 L360.13 272.66 L360.24 272.67 L360.36 272.67 L360.48 272.68 L360.60 272.69 L360.71 272.69 L360.83 272.70 L360.95 272.70 L361.07 272.71 L361.18 272.71 L361.30 272.72 L361.42 272.73 L361.54 272.73 L361.65 272.74 L361.77 272.75 L361.89 272.75 L362.01 272.76 L362.12 272.77 L362.24 272.77 L362.36 272.78 L362.48 272.79 L362.59 272.79 L362.71 272.80 L362.83 272.81 L362.95 272.82 L363.07 272.82 L363.18 272.83 L363.30 272.84 L363.42 272.85 L363.54 272.85 L363.65 272.86 L363.77 272.87 L363.89 272.88 L364.01 272.89 L364.12 272.90 L364.24 272.90 L364.36 272.91 L364.48 272.92 L364.59 272.93 L364.71 272.94 L364.83 272.95 L364.95 272.96 L365.06 272.96 L365.18 272.97 L365.30 272.98 L365.42 272.99 L365.53 273.00 L365.65 273.01 L365.77 273.02 L365.89 273.03 L366.01 273.04 L366.12 273.05 L366.24 273.06 L366.36 273.07 L366.48 273.08 L366.59 273.09 L366.71 273.10 L366.83 273.11 L366.95 273.12 L367.06 273.13 L367.18 273.14 L367.30 273.15 L367.42 273.16 L367.53 273.17 L367.65 273.18 L367.77 273.20 L367.89 273.21 L368.00 273.22 L368.12 273.23 L368.24 273.24 L368.36 273.25 L368.47 273.26 L368.59 273.27 L368.71 273.29 L368.83 273.30 L368.95 273.31 L369.06 273.32 L369.18 273.33 L369.30 273.35 L369.42 273.36 L369.53 273.37 L369.65 273.38 L369.77 273.39 L369.89 273.41 L370.00 273.42 L370.12 273.43 L370.24 273.44 L370.36 273.46 L370.47 273.47 L370.59 273.48 L370.71 273.50 L370.83 273.51 L370.94 273.52 L371.06 273.53 L371.18 273.55 L371.30 273.56 L371.41 273.57 L371.53 273.59 L371.65 273.60 L371.77 273.62 L371.89 273.63 L372.00 273.64 L372.12 273.66 L372.24 273.67 L372.36 273.68 L372.47 273.70 L372.59 273.71 L372.71 273.73 L372.83 273.74 L372.94 273.76 L373.06 273.77 L373.18 273.78 L373.30 273.80 L373.41 273.81 L373.53 273.83 L373.65 273.84 L373.77 273.86 L373.88 273.87 L374.00 273.89 L374.12 273.90 L374.24 273.92 L374.36 273.93 L374.47 273.95 L374.59 273.96 L374.71 273.98 L374.83 273.99 L374.94 274.01 L375.06 274.03 L375.18 274.04 L375.30 274.06 L375.41 274.07 L375.53 274.09 L375.65 274.11 L375.77 274.12 L375.88 274.14 L376.00 274.15 L376.12 274.17 L376.24 274.19 L376.35 274.20 L376.47 274.22 L376.59 274.24 L376.71 274.25 L376.82 274.27 L376.94 274.29 L377.06 274.30 L377.18 274.32 L377.30 274.34 L377.41 274.35 L377.53 274.37 L377.65 274.39 L377.77 274.40 L377.88 274.42 L378.00 274.44 L378.12 274.46 L378.24 274.47 L378.35 274.49 L378.47 274.51 L378.59 274.53 L378.71 274.54 L378.82 274.56 L378.94 274.58 L379.06 274.60 L379.18 274.62 L379.29 274.63 L379.41 274.65 L379.53 274.67 L379.65 274.69 L379.76 274.71 L379.88 274.73 L380.00 274.74" stroke="#ff00ff" stroke-dasharray="3.1 3.435" stroke-dashoffset="3.22"/>
</g>
<g stroke="#000" stroke-width="1" fill="none" shape-rendering="auto">
<rect x="87.00" y="7.50" width="293.00" height="293.50"/>
<path d="M160.25 301.00v-4.2M160.25 7.50v4.2M233.50 301.00v-4.2M233.50 7.50v4.2M306.75 301.00v-4.2M306.75 7.50v4.2M87.00 262.24h2.1M380.00 262.24h-2.1M87.00 239.57h2.1M380.00 239.57h-2.1M87.00 223.48h2.1M380.00 223.48h-2.1M87.00 211.01h2.1M380.00 211.01h-2.1M87.00 200.81h2.1M380.00 200.81h-2.1M87.00 192.19h2.1M380.00 192.19h-2.1M87.00 184.73h2.1M380.00 184.73h-2.1M87.00 178.14h2.1M380.00 178.14h-2.1M87.00 172.25h4.2M380.00 172.25h-4.2M87.00 133.49h2.1M380.00 133.49h-2.1M87.00 110.82h2.1M380.00 110.82h-2.1M87.00 94.73h2.1M380.00 94.73h-2.1M87.00 82.26h2.1M380.00 82.26h-2.1M87.00 72.06h2.1M380.00 72.06h-2.1M87.00 63.44h2.1M380.00 63.44h-2.1M87.00 55.98h2.1M380.00 55.98h-2.1M87.00 49.39h2.1M380.00 49.39h-2.1M87.00 43.50h4.2M380.00 43.50h-4.2"/>
</g>
<g fill="none" stroke-width="1.5">
<path d="M319 23.1H361.2" stroke="#ff0000"/>
<path d="M319 46.7H361.2" stroke="#00ff00" stroke-dasharray="10.8 5"/>
<path d="M319 70.45H361.2" stroke="#0000ff" stroke-dasharray="6 7"/>
<path d="M319 94H361.2" stroke="#ff00ff" stroke-dasharray="3.1 3.4"/>
</g>
<g fill="#000">
<text transform="translate(76.20 48.50) scale(0.985 1.025)" font-family="Liberation Sans, sans-serif" font-size="15.4" text-anchor="end">0.01</text>
<text transform="translate(76.20 177.15) scale(0.985 1.025)" font-family="Liberation Sans, sans-serif" font-size="15.4" text-anchor="end">0.001</text>
<text transform="translate(76.20 305.75) scale(0.985 1.025)" font-family="Liberation Sans, sans-serif" font-size="15.4" text-anchor="end">0.0001</text>
<text transform="translate(89.00 322.10) scale(0.985 1.025)" font-family="Liberation Sans, sans-serif" font-size="15.4" text-anchor="middle">2</text>
<text transform="translate(162.25 322.10) scale(0.985 1.025)" font-family="Liberation Sans, sans-serif" font-size="15.4" text-anchor="middle">2.5</text>
<text transform="translate(235.50 322.10) scale(0.985 1.025)" font-family="Liberation Sans, sans-serif" font-size="15.4" text-anchor="middle">3</text>
<text transform="translate(308.75 322.10) scale(0.985 1.025)" font-family="Liberation Sans, sans-serif" font-size="15.4" text-anchor="middle">3.5</text>
<text transform="translate(382.00 322.10) scale(0.985 1.025)" font-family="Liberation Sans, sans-serif" font-size="15.4" text-anchor="middle">4</text>
<text transform="translate(283.85 29.40) scale(1.000 0.990)" font-family="Liberation Serif, serif" font-size="17" text-anchor="start">θ</text>
<path transform="translate(293.00 28.40) scale(1.000)" d="M0 -4.95H7.10M0 -2.35H7.10" stroke="#000" stroke-width="1.15" fill="none"/>
<text transform="translate(301.10 29.40) scale(0.985 1.025)" font-family="Liberation Sans, sans-serif" font-size="15.4" text-anchor="start">0</text>
<text transform="translate(270.90 52.30) scale(1.000 0.990)" font-family="Liberation Serif, serif" font-size="17" text-anchor="start">θ</text>
<path transform="translate(279.65 52.00) scale(1.000)" d="M0 -4.95H7.10M0 -2.35H7.10" stroke="#000" stroke-width="1.15" fill="none"/>
<g transform="translate(288.05 52.30) scale(1.000)" fill="none" stroke="#000" stroke-linecap="round" stroke-linejoin="round"><path d="M0.45 -5.6C0.8 -6.9 1.5 -7.2 2.6 -7.2H8.0" stroke-width="1.25"/><path d="M3.25 -7.0C3.2 -4.6 2.9 -2.4 1.7 -0.45" stroke-width="1.05"/><path d="M5.85 -7.0V-1.9C5.85 -0.3 6.9 -0.1 7.9 -1.0" stroke-width="1.05"/></g>
<text transform="translate(297.00 52.30) scale(0.985 1.025)" font-family="Liberation Sans, sans-serif" font-size="15.4" text-anchor="start">/</text>
<text transform="translate(300.90 52.30) scale(0.985 1.025)" font-family="Liberation Sans, sans-serif" font-size="15.4" text-anchor="start">8</text>
<text transform="translate(270.90 75.90) scale(1.000 0.990)" font-family="Liberation Serif, serif" font-size="17" text-anchor="start">θ</text>
<path transform="translate(279.65 75.60) scale(1.000)" d="M0 -4.95H7.10M0 -2.35H7.10" stroke="#000" stroke-width="1.15" fill="none"/>
<g transform="translate(288.05 75.90) scale(1.000)" fill="none" stroke="#000" stroke-linecap="round" stroke-linejoin="round"><path d="M0.45 -5.6C0.8 -6.9 1.5 -7.2 2.6 -7.2H8.0" stroke-width="1.25"/><path d="M3.25 -7.0C3.2 -4.6 2.9 -2.4 1.7 -0.45" stroke-width="1.05"/><path d="M5.85 -7.0V-1.9C5.85 -0.3 6.9 -0.1 7.9 -1.0" stroke-width="1.05"/></g>
<text transform="translate(297.00 75.90) scale(0.985 1.025)" font-family="Liberation Sans, sans-serif" font-size="15.4" text-anchor="start">/</text>
<text transform="translate(300.90 75.90) scale(0.985 1.025)" font-family="Liberation Sans, sans-serif" font-size="15.4" text-anchor="start">4</text>
<text transform="translate(270.90 99.60) scale(1.000 0.990)" font-family="Liberation Serif, serif" font-size="17" text-anchor="start">θ</text>
<path transform="translate(279.65 99.30) scale(1.000)" d="M0 -4.95H7.10M0 -2.35H7.10" stroke="#000" stroke-width="1.15" fill="none"/>
<g transform="translate(288.05 99.60) scale(1.000)" fill="none" stroke="#000" stroke-linecap="round" stroke-linejoin="round"><path d="M0.45 -5.6C0.8 -6.9 1.5 -7.2 2.6 -7.2H8.0" stroke-width="1.25"/><path d="M3.25 -7.0C3.2 -4.6 2.9 -2.4 1.7 -0.45" stroke-width="1.05"/><path d="M5.85 -7.0V-1.9C5.85 -0.3 6.9 -0.1 7.9 -1.0" stroke-width="1.05"/></g>
<text transform="translate(297.00 99.60) scale(0.985 1.025)" font-family="Liberation Sans, sans-serif" font-size="15.4" text-anchor="start">/</text>
<text transform="translate(300.90 99.60) scale(0.985 1.025)" font-family="Liberation Sans, sans-serif" font-size="15.4" text-anchor="start">2</text>
<text transform="translate(217.10 335.80) scale(0.985 1.025)" font-family="Liberation Sans, sans-serif" font-size="15.4" text-anchor="start">m</text>
<g transform="translate(230.40 340.40) scale(0.750)" fill="none" stroke="#000" stroke-linecap="round" stroke-linejoin="round"><path d="M0.45 -5.6C0.8 -6.9 1.5 -7.2 2.6 -7.2H8.0" stroke-width="1.88"/><path d="M3.25 -7.0C3.2 -4.6 2.9 -2.4 1.7 -0.45" stroke-width="1.26"/><path d="M5.85 -7.0V-1.9C5.85 -0.3 6.9 -0.1 7.9 -1.0" stroke-width="1.26"/></g>
<text transform="translate(241.30 335.80) scale(0.985 1.025)" font-family="Liberation Sans, sans-serif" font-size="15.4" text-anchor="start">L</text>
<g transform="translate(18.6 193.9) rotate(-90)">
<text transform="translate(-0.57 0.00) scale(0.985 1.025)" font-family="Liberation Sans, sans-serif" font-size="15.4" text-anchor="start">|</text>
<text transform="translate(4.00 0.00) scale(0.985 1.025)" font-family="Liberation Serif, serif" font-size="15.4" text-anchor="start">Δ</text>
<text transform="translate(13.50 -8.70) scale(0.900 1.025)" font-family="Liberation Sans, sans-serif" font-size="13" text-anchor="start">V</text>
<text transform="translate(25.90 0.00) scale(0.985 1.025)" font-family="Liberation Sans, sans-serif" font-size="15.4" text-anchor="start">m</text>
<text transform="translate(38.50 -8.70) scale(0.985 1.025)" font-family="Liberation Sans, sans-serif" font-size="13" text-anchor="start">2</text>
<g transform="translate(38.80 4.00) scale(0.720)" fill="none" stroke="#000" stroke-linecap="round" stroke-linejoin="round"><path d="M0.45 -5.6C0.8 -6.9 1.5 -7.2 2.6 -7.2H8.0" stroke-width="2.00"/><path d="M3.25 -7.0C3.2 -4.6 2.9 -2.4 1.7 -0.45" stroke-width="1.26"/><path d="M5.85 -7.0V-1.9C5.85 -0.3 6.9 -0.1 7.9 -1.0" stroke-width="1.26"/></g>
<path d="M46.5 -4.0h4.2M48.6 -6.1v4.2" stroke="#000" stroke-width="0.9" fill="none"/>
<text transform="translate(51.43 0.00) scale(0.985 1.025)" font-family="Liberation Sans, sans-serif" font-size="15.4" text-anchor="start">|/m</text>
<text transform="translate(72.40 -8.70) scale(0.985 1.025)" font-family="Liberation Sans, sans-serif" font-size="13" text-anchor="start">2</text>
<g transform="translate(73.20 4.00) scale(0.720)" fill="none" stroke="#000" stroke-linecap="round" stroke-linejoin="round"><path d="M0.45 -5.6C0.8 -6.9 1.5 -7.2 2.6 -7.2H8.0" stroke-width="2.00"/><path d="M3.25 -7.0C3.2 -4.6 2.9 -2.4 1.7 -0.45" stroke-width="1.26"/><path d="M5.85 -7.0V-1.9C5.85 -0.3 6.9 -0.1 7.9 -1.0" stroke-width="1.26"/></g>
</g>
</g>
</svg>
</body></html>
